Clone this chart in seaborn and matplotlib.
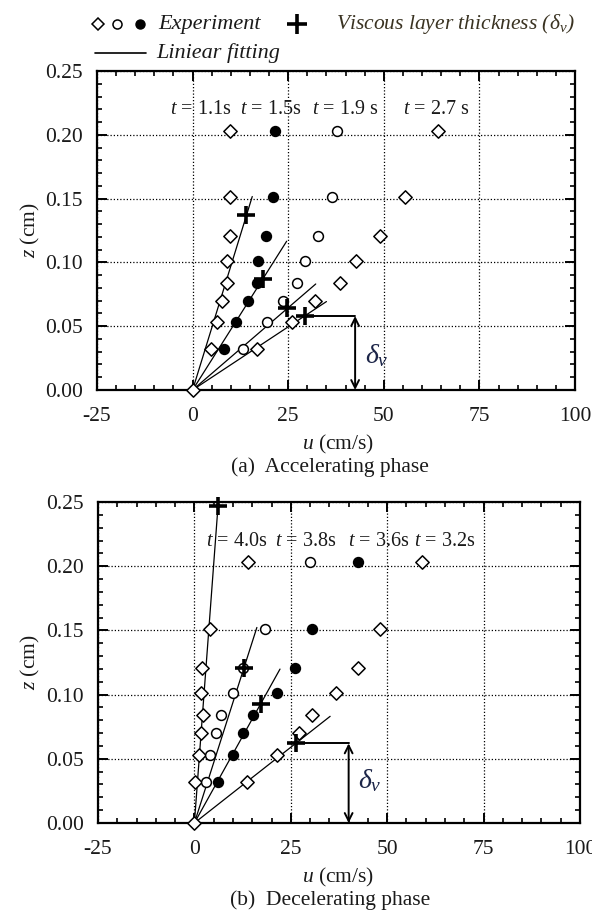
import numpy as np
import pandas as pd
import matplotlib
matplotlib.use("Agg")
import matplotlib.pyplot as plt
from matplotlib.lines import Line2D
from matplotlib.ticker import MultipleLocator, FormatStrFormatter
import seaborn as sns

# ---------------------------------------------------------------- data
# measurement heights above the bed (cm)
z_levels = [0.032, 0.053, 0.070, 0.084, 0.101, 0.121, 0.151, 0.203]

# (a) accelerating phase: velocity profiles u (cm/s)
acc_times = ["1.1", "1.5", "1.9", "2.7"]
u_acc_11 = [4.7, 6.3, 7.6, 8.9, 9.1, 9.8, 9.8, 9.8]
u_acc_15 = [8.2, 11.3, 14.4, 16.8, 17.0, 19.2, 20.9, 21.5]
u_acc_19 = [13.1, 19.4, 23.6, 27.2, 29.4, 32.7, 36.4, 37.7]
u_acc_27 = [16.8, 25.9, 32.0, 38.6, 42.8, 48.9, 55.6, 64.3]
# linear fits through the origin: slope dz/du and fitted extent in u
acc_fit_slope = [0.00972, 0.00474, 0.00258, 0.00198]
acc_fit_umax = [15.6, 24.6, 32.2, 35.0]
# viscous layer thickness (cm)
acc_delta = [0.137, 0.087, 0.064, 0.058]

# (b) decelerating phase
dec_times = ["4.0", "3.8", "3.6", "3.2"]
u_dec_40 = [0.2, 1.3, 1.7, 2.3, 1.7, 2.1, 4.1, 14.0]
u_dec_38 = [3.0, 4.1, 5.6, 6.9, 10.1, 12.6, 18.3, 30.0]
u_dec_36 = [6.2, 9.9, 12.7, 15.1, 21.3, 26.1, 30.4, 42.5]
u_dec_32 = [13.6, 21.3, 27.1, 30.4, 36.6, 42.5, 48.1, 58.9]
dec_fit_slope = [0.0403, 0.0094, 0.00540, 0.00236]
dec_fit_umax = [6.2, 16.2, 22.2, 35.2]
dec_delta = [0.247, 0.121, 0.0927, 0.062]

x_ticks = [-25, 0, 25, 50, 75, 100]
y_ticks = [0.00, 0.05, 0.10, 0.15, 0.20, 0.25]

# ---------------------------------------------------------------- style
sns.set_style("ticks")
plt.rcParams.update({
    "font.family": ["Liberation Serif", "DejaVu Serif"],
    "mathtext.fontset": "custom",
    "mathtext.rm": "Liberation Serif",
    "mathtext.it": "Liberation Serif:italic",
    "mathtext.bf": "Liberation Serif:bold",
    "axes.unicode_minus": False,
    "text.color": "#1a1a1a",
})

W, H = 592, 915
fig = plt.figure(figsize=(W / 100, H / 100), dpi=100)


def fig_box(l, t, r, b):
    return [l / W, 1 - b / H, (r - l) / W, (b - t) / H]


def fx(px):
    return px / W


def fy(py):
    return 1 - py / H


MARKERS = {"open_diamond": ("D", "white"),
           "open_circle": ("o", "white"),
           "filled_circle": ("o", "black")}


def style_axes(ax):
    ax.set_xlim(x_ticks[0], x_ticks[-1])
    ax.set_ylim(y_ticks[0], y_ticks[-1])
    ax.set_xticks(x_ticks)
    ax.set_yticks(y_ticks)
    ax.xaxis.set_minor_locator(MultipleLocator(5))
    ax.yaxis.set_minor_locator(MultipleLocator(0.01))
    ax.yaxis.set_major_formatter(FormatStrFormatter("%.2f"))
    ax.tick_params(which="both", direction="in", top=True, right=True,
                   colors="black", labelcolor="#1a1a1a")
    ax.tick_params(which="major", length=7, width=1.4, labelsize=15.5)
    ax.tick_params(axis="x", which="major", pad=12)
    ax.tick_params(axis="y", which="major", pad=10)
    ax.tick_params(which="minor", length=3.5, width=1.2)
    for sp in ax.spines.values():
        sp.set_linewidth(1.6)
        sp.set_color("black")
    ax.grid(True, which="major", color="black", lw=0.9,
            linestyle=(0, (1, 1.6)), zorder=0)


def draw_panel(ax, times, profiles, kinds, slopes, umax, deltas,
               label_u, label_z, arrow_u, delta_series, delta_label_pos):
    style_axes(ax)
    rows = []
    for t, u, k in zip(times, profiles, kinds):
        for ui, zi in zip(u, z_levels):
            rows.append({"t": t, "u": ui, "z": zi, "kind": k})
    df = pd.DataFrame(rows)

    # linear fits through the origin
    for s, um in zip(slopes, umax):
        sns.lineplot(x=[0.0, um], y=[0.0, s * um], color="black", lw=0.9,
                     ax=ax, zorder=2)

    # experimental points
    for kind, (mk, fc) in MARKERS.items():
        sub = df[df["kind"] == kind]
        if sub.empty:
            continue
        sns.scatterplot(data=sub, x="u", y="z", marker=mk,
                        s=46 if mk == "D" else 50,
                        color=fc, edgecolor="black", linewidth=1.1,
                        ax=ax, zorder=4, legend=False)
    # common origin
    sns.scatterplot(x=[0.0], y=[0.0], marker="D", s=46, color="white",
                    edgecolor="black", linewidth=1.1, ax=ax, zorder=5,
                    clip_on=False, legend=False)

    # viscous layer thickness on each fit line
    du = [d / s for d, s in zip(deltas, slopes)]
    sns.scatterplot(x=du, y=deltas, marker="+", s=170, color="black",
                    linewidth=2.6, ax=ax, zorder=6, clip_on=False,
                    legend=False)

    # time labels
    for t, lu in zip(times, label_u):
        sep = " s" if t in ("1.9", "2.7") else "s"
        ax.text(lu, label_z, f"$t$ = {t}{sep}", ha="center", va="center",
                fontsize=14.5, zorder=7)

    # delta_v annotation
    i = delta_series
    ax.plot([du[i], arrow_u], [deltas[i], deltas[i]], color="black",
            lw=1.4, zorder=3)
    ax.annotate("", xy=(arrow_u, 0.0), xytext=(arrow_u, deltas[i]),
                arrowprops=dict(arrowstyle="<->", color="black", lw=1.4,
                                shrinkA=0, shrinkB=0,
                                mutation_scale=14), zorder=3)
    ax.text(delta_label_pos[0], delta_label_pos[1], r"$\delta_v$",
            fontsize=20, ha="center", va="center", color="#1c2548")

    # axis titles are placed at figure level
    ax.set_xlabel("")
    ax.set_ylabel("")


ax_a = fig.add_axes(fig_box(97, 71, 575, 390))
draw_panel(ax_a, acc_times, [u_acc_11, u_acc_15, u_acc_19, u_acc_27],
           ["open_diamond", "filled_circle", "open_circle", "open_diamond"],
           acc_fit_slope, acc_fit_umax, acc_delta,
           [2.0, 20.5, 39.8, 63.7], 0.2196, 42.5, 3, (48.2, 0.027))

ax_b = fig.add_axes(fig_box(98, 502, 580, 823))
draw_panel(ax_b, dec_times, [u_dec_40, u_dec_38, u_dec_36, u_dec_32],
           ["open_diamond", "open_circle", "filled_circle", "open_diamond"],
           dec_fit_slope, dec_fit_umax, dec_delta,
           [11.0, 28.9, 47.7, 64.9], 0.2195, 40.0, 3, (45.5, 0.033))

# axis titles and captions
for top, bottom, cap in [(71, 390, "(a)  Accelerating phase"),
                         (502, 823, "(b)  Decelerating phase")]:
    fig.text(fx(30), fy((top + bottom) / 2), "$z$ (cm)", rotation=90,
             ha="center", va="center", fontsize=15.5)
    fig.text(fx(338), fy(bottom + 54), "$u$ (cm/s)", ha="center",
             va="center", fontsize=15.5)
    fig.text(fx(330), fy(bottom + 77), cap, ha="center", va="center",
             fontsize=15.5)


# legend above the upper panel
def fig_marker(px, py, **kw):
    fig.add_artist(Line2D([fx(px)], [fy(py)], transform=fig.transFigure,
                          linestyle="none", **kw))


fig_marker(98, 24, marker="D", markersize=6.2, markerfacecolor="white",
           markeredgecolor="black", markeredgewidth=1.1)
fig_marker(117, 24, marker="o", markersize=6.5, markerfacecolor="white",
           markeredgecolor="black", markeredgewidth=1.1)
fig_marker(140, 24, marker="o", markersize=6.5, markerfacecolor="black",
           markeredgecolor="black")
fig.text(fx(158), fy(24), "Experiment", style="italic", fontsize=16,
         ha="left", va="center")
fig_marker(297, 24, marker="+", markersize=14, markeredgewidth=2.6,
           color="black")
fig.text(fx(336), fy(24), r"Viscous layer thickness ($\delta_v$)",
         style="italic", fontsize=15.5, ha="left", va="center",
         color="#3a3322")
fig.add_artist(Line2D([fx(95), fx(146)], [fy(53), fy(53)],
                      transform=fig.transFigure, color="black", lw=1.2))
fig.text(fx(156), fy(53), "Liniear fitting", style="italic", fontsize=16,
         ha="left", va="center")

fig.savefig("out.png", dpi=100)
